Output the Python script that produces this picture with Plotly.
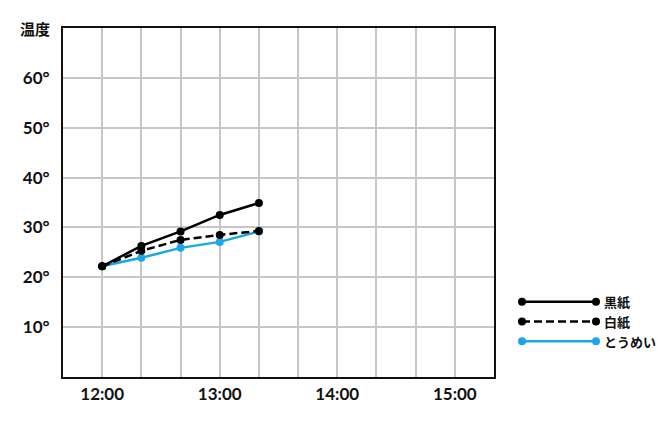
import plotly.graph_objects as go

# ---- data ----
times = ["12:00", "12:20", "12:40", "13:00", "13:20"]
black_paper = [22.2, 26.3, 29.2, 32.5, 34.9]
white_paper = [22.2, 25.3, 27.5, 28.5, 29.3]
transparent = [22.2, 23.9, 25.9, 27.1, 29.2]
series_names = ["黒紙", "白紙", "とうめい"]
x_tick_labels = ["12:00", "13:00", "14:00", "15:00"]
y_tick_values = [10, 20, 30, 40, 50, 60]
y_title = "温度"

DAY = "2024-01-01 "
def ts(t):
    return DAY + t

grid_times = ["12:00", "12:20", "12:40", "13:00", "13:20", "13:40", "14:00",
              "14:20", "14:40", "15:00"]

FONT = "Lato, 'Noto Sans CJK JP', sans-serif"
JFONT = "'Noto Sans CJK JP', sans-serif"
BLUE = "#1aa6e8"
BLACK = "#000000"

fig = go.Figure()

styles = [
    (black_paper, BLACK, "solid"),
    (white_paper, BLACK, "8px,4px"),
    (transparent, BLUE, "solid"),
]

for idx in [2, 1, 0]:
    vals, col, dash = styles[idx]
    fig.add_trace(go.Scatter(
        x=[ts(t) for t in times], y=vals, mode="lines+markers",
        line=dict(color=col, width=2.5, dash=dash),
        marker=dict(color=col, size=8),
        name=series_names[idx], showlegend=False, cliponaxis=False,
    ))

# page offset (body margin of the html page)
OFF = 8
W, H = 664, 431
L, R, T, B = 63 - OFF, 10, 28 - OFF, 54
plot_w = W - L - R
plot_h = H - T - B
main_w = 431
main_h = 349

def px_x(p):
    return (p - OFF - L) / plot_w

def px_y(p):
    return (T + plot_h - (p - OFF)) / plot_h

for row, (vals, col, dash) in enumerate(styles):
    fig.add_trace(go.Scatter(
        x=[0, 1], y=[row, row], mode="lines+markers",
        line=dict(color=col, width=2.5, dash=dash),
        marker=dict(color=col, size=8),
        xaxis="x2", yaxis="y2", showlegend=False, cliponaxis=False,
        hoverinfo="skip",
    ))
    fig.add_annotation(
        x=1, y=row, xref="x2", yref="y2", text=f"<b>{series_names[row]}</b>",
        showarrow=False, xanchor="left", xshift=6,
        font=dict(family=JFONT, size=13, color="#111"),
    )

fig.add_annotation(
    x=px_x(52), y=px_y(28), xref="paper", yref="paper", text=f"<b>{y_title}</b>",
    showarrow=False, xanchor="right", yanchor="middle",
    font=dict(family=JFONT, size=15, color="#111"),
)

ticktext = [t if t in x_tick_labels else "" for t in grid_times]

fig.update_layout(
    width=W, height=H,
    margin=dict(l=L, r=R, t=T, b=B),
    paper_bgcolor="white", plot_bgcolor="white",
    font=dict(family=FONT, color="#111"),
    xaxis=dict(
        domain=[0, main_w / plot_w],
        type="date",
        range=[ts("11:40"), ts("15:20")],
        tickvals=[ts(t) for t in grid_times], ticktext=ticktext,
        showgrid=True, gridcolor="#c6c6c6", gridwidth=1.5,
        showline=True, linecolor="#111", linewidth=2, mirror=True,
        ticks="", ticklabelstandoff=1,
        tickfont=dict(family=FONT, size=17, color="#111", weight="bold"),
        zeroline=False, fixedrange=True,
    ),
    yaxis=dict(
        domain=[1 - main_h / plot_h, 1],
        range=[0, 70],
        tickvals=y_tick_values, ticktext=[f"{v}°" for v in y_tick_values],
        showgrid=True, gridcolor="#c6c6c6", gridwidth=1.5,
        showline=True, linecolor="#111", linewidth=2, mirror=True,
        ticks="", ticklabelstandoff=8,
        tickfont=dict(family=FONT, size=17, color="#111", weight="bold"),
        zeroline=False, fixedrange=True,
    ),
    xaxis2=dict(
        domain=[px_x(522), px_x(596)], range=[0, 1],
        visible=False, anchor="y2", fixedrange=True,
    ),
    yaxis2=dict(
        domain=[px_y(351), px_y(292)], range=[2.5, -0.5],
        visible=False, anchor="x2", fixedrange=True,
    ),
    showlegend=False,
)

fig.write_html("out.html")
